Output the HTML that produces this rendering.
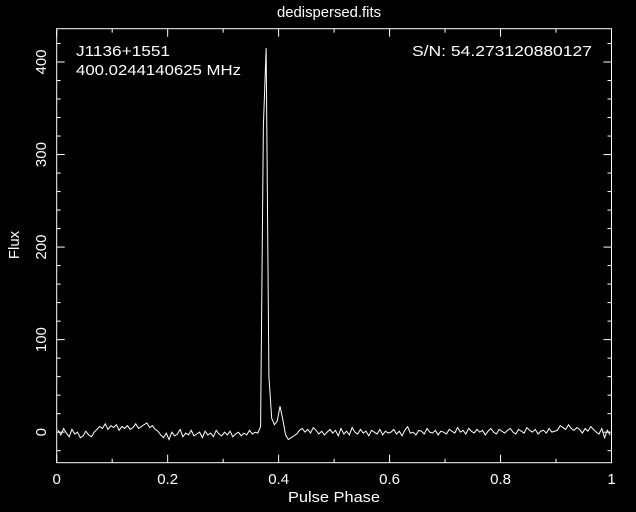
<!DOCTYPE html>
<html><head><meta charset="utf-8"><style>
html,body{margin:0;padding:0;background:#000;}
svg{display:block;}
text{font-family:"Liberation Sans",sans-serif;fill:#fff;font-size:15px;}
</style></head><body>
<svg id="chart" width="636" height="512">
<rect width="636" height="512" fill="#000"/>
<text x="277" y="17" textLength="104" lengthAdjust="spacingAndGlyphs">dedispersed.fits</text>
<text x="76" y="56" textLength="94" lengthAdjust="spacingAndGlyphs">J1136+1551</text>
<text x="76" y="75" textLength="165" lengthAdjust="spacingAndGlyphs">400.0244140625 MHz</text>
<text x="412" y="56" textLength="180" lengthAdjust="spacingAndGlyphs">S/N: 54.273120880127</text>
<text x="288" y="502" textLength="92" lengthAdjust="spacingAndGlyphs">Pulse Phase</text>
<text transform="translate(19,245) rotate(-90)" text-anchor="middle">Flux</text>
<g id="axes"></g>
<polyline id="profile" fill="none" stroke="#fff" stroke-width="1"/>
</svg>
<script>
const profile = [2,-3,4,-1,-5,3,-2,0,-6,-4,1,-3,-5,0,3,
6,4,9,3,7,5,8,2,6,4,7,3,5,9,4,6,8,10,5,7,3,1,
-3,-6,-1,-8,0,-4,-2,3,-5,-1,-3,2,-4,-2,0,-6,1,-3,-1,-5,2,-2,-4,0,-3,1,-5,-2,0,-4,-1,-3,2,-2,0,-1,
6,330,415,60,15,8,12,28,14,-3,-8,-6,
-4,-2,2,4,0,3,-1,5,2,-2,1,-3,0,3,-1,
2,-4,4,-2,1,-3,5,0,-2,3,-1,1,-4,2,0,-2,3,-3,1,-1,
0,3,-2,1,-4,2,6,-1,0,-3,2,1,-2,4,0,-1,2,-3,1,0,
-2,3,1,-1,5,0,2,-2,4,1,-1,3,0,2,-3,1,4,0,-2,3,
1,-1,2,4,0,-2,3,1,-1,5,2,0,3,-2,1,2,-1,4,0,1,
2,7,5,3,8,4,2,5,3,-1,4,1,6,3,0,-2,4,-6,2,-3];
const xTicks = [0,0.2,0.4,0.6,0.8,1];
const xTickLabels = ["0","0.2","0.4","0.6","0.8","1"];
const yTicks = [0,100,200,300,400];
const yTickLabels = ["0","100","200","300","400"];
const X0=56.7,X1=611.5,Y0=462.7,Y1=28.7,yMin=-33,yMax=436;
const sx=v=>X0+v*(X1-X0);
const sy=v=>Y0-(v-yMin)/(yMax-yMin)*(Y0-Y1);
const NS='http://www.w3.org/2000/svg';
const g=document.getElementById('axes');
function line(x1,y1,x2,y2,name){const l=document.createElementNS(NS,'line');
l.setAttribute('x1',x1);l.setAttribute('y1',y1);l.setAttribute('x2',x2);l.setAttribute('y2',y2);
l.setAttribute('stroke','#fff');l.setAttribute('stroke-width','1');


g.appendChild(l);}
const fr=document.createElementNS(NS,'rect');
fr.setAttribute('x',X0);fr.setAttribute('y',Y1);fr.setAttribute('width',X1-X0);fr.setAttribute('height',Y0-Y1);
fr.setAttribute('fill','none');fr.setAttribute('stroke','#fff');


g.appendChild(fr);
for(let v=0;v<=10;v++){const x=sx(v/10);const L=v%2==0?8:4;
line(x,Y0,x,Y0-L,'x-tick');line(x,Y1,x,Y1+L,'x-tick');}
for(let v=-20;v<=yMax;v+=20){const y=sy(v);const L=v%100==0?8:4;
line(X0,y,X0+L,y,'y-tick');line(X1,y,X1-L,y,'y-tick');}
xTicks.forEach((v,i)=>{const t=document.createElementNS(NS,'text');
t.setAttribute('x',sx(v));t.setAttribute('y',484);t.setAttribute('text-anchor','middle');
t.textContent=xTickLabels[i];


g.appendChild(t);});
yTicks.forEach((v,i)=>{const t=document.createElementNS(NS,'text');
t.setAttribute('transform','translate(46,'+sy(v)+') rotate(-90)');t.setAttribute('text-anchor','middle');
t.textContent=yTickLabels[i];


g.appendChild(t);});
const n=profile.length;
document.getElementById('profile').setAttribute('points',
profile.map((v,i)=>sx((i+0.5)/n).toFixed(2)+','+sy(v).toFixed(2)).join(' '));
</script>
</body></html>
